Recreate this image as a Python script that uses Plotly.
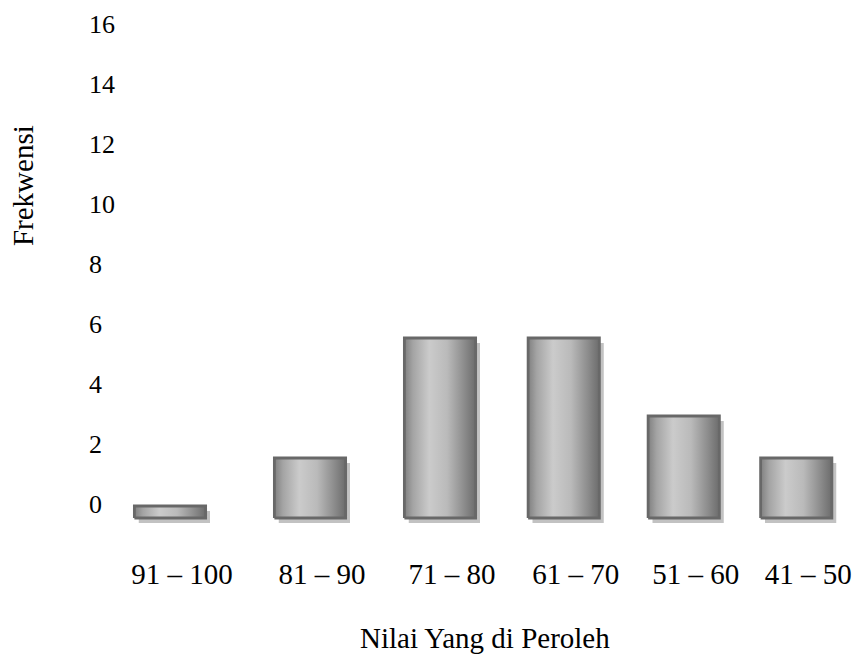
import plotly.graph_objects as go

# Frequency of scores per interval
categories = ["91 – 100", "81 – 90", "71 – 80", "61 – 70", "51 – 60", "41 – 50"]
frequencies = [0.4, 2, 6, 6, 3.4, 2]
y_ticks = [0, 2, 4, 6, 8, 10, 12, 14, 16]

# Layout: bar centres along the x axis and bar width (axis units)
x_pos = [0, 1.12, 2.16, 3.15, 4.11, 5.01]
bar_w = 0.57

SERIF = "Liberation Serif"
EDGE = "#686868"
SHADE = "#c2c2c2"
sheen = [[0.0, "#808080"], [0.12, "#a4a4a4"], [0.35, "#cbcbcb"],
         [0.6, "#bababa"], [0.85, "#8a8a8a"], [1.0, "#6c6c6c"]]

fig = go.Figure()

# Drop shadow, slightly right of and below each bar
fig.add_trace(go.Bar(
    x=x_pos, y=frequencies, width=bar_w,
    offset=-bar_w / 2 + 0.035, base=-0.17,
    marker=dict(color=SHADE, line=dict(width=0)),
    hoverinfo="skip", showlegend=False,
))

# Bars with a metallic sheen
for cat, xc, v in zip(categories, x_pos, frequencies):
    x0, x1 = xc - bar_w / 2, xc + bar_w / 2
    fig.add_trace(go.Scatter(
        x=[x0, x1, x1, x0, x0], y=[0, 0, v, v, 0],
        mode="lines", fill="toself",
        fillgradient=dict(type="horizontal", colorscale=sheen),
        line=dict(color=EDGE, width=2.8),
        name=cat, hovertemplate=f"{cat}: {v}<extra></extra>",
        showlegend=False,
    ))

fig.update_layout(
    width=866, height=655,
    margin=dict(l=86, r=0, t=5, b=125),
    paper_bgcolor="white", plot_bgcolor="white",
    font=dict(family=SERIF, color="black"),
    barmode="overlay",
    xaxis=dict(
        range=[-0.672, 5.568], tickvals=x_pos, ticktext=categories,
        showgrid=False, zeroline=False, showline=False, ticks="",
        tickfont=dict(size=29, family=SERIF, color="black"),
        ticklabelshift=12, ticklabelstandoff=24,
    ),
    yaxis=dict(
        range=[-0.4, 17.1], tickvals=y_ticks, ticktext=[str(t) for t in y_ticks],
        showgrid=False, zeroline=False, showline=False, ticks="",
        tickfont=dict(size=26, family=SERIF, color="black"),
        ticklabelposition="inside", ticklabeloverflow="allow",
        ticklabelshift=-14,
    ),
    annotations=[
        dict(text="Nilai Yang di Peroleh", xref="paper", yref="paper",
             x=0.5115, y=-0.2057, xanchor="center", yanchor="middle",
             showarrow=False, font=dict(size=29, family=SERIF, color="black")),
        dict(text="Frekwensi", xref="paper", yref="paper",
             x=-0.0808, y=0.657, xanchor="center", yanchor="middle",
             textangle=-90, showarrow=False,
             font=dict(size=29, family=SERIF, color="black")),
    ],
)

fig.write_html("out.html")
